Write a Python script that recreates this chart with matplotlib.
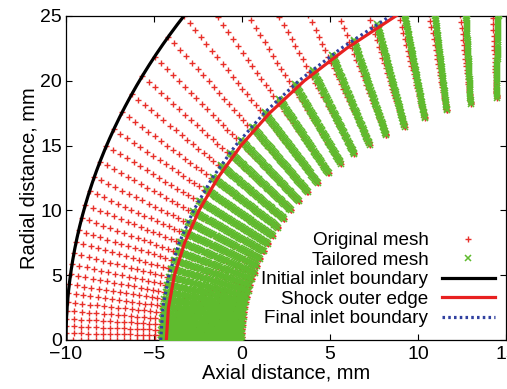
import numpy as np
import matplotlib
matplotlib.use("Agg")
import matplotlib.pyplot as plt

plt.rcParams['font.family'] = ['Liberation Sans', 'DejaVu Sans']

# spherical nose of the body (mm), nose point at x = 0
body_radius = 19.3
# initial inlet boundary: circular arc through x = -10 on the axis
inlet_center_x = 40.0
inlet_radius = 50.0

# grid lines: angle on the body and angle on the initial inlet boundary (deg)
ray_body_deg = [0.0, 0.78, 1.60, 2.46, 3.37, 4.34, 5.35, 6.41, 7.53, 8.71,
                9.96, 11.27, 12.65, 14.11, 15.64, 17.25, 18.95, 20.74, 22.63,
                24.62, 26.71, 28.91, 31.23, 33.68, 36.26, 38.97, 41.83, 44.84,
                48.01, 51.36, 54.88, 58.58, 62.49, 66.60, 70.93, 75.50, 80.31]
ray_inlet_deg = [0.0, 0.60, 1.23, 1.89, 2.59, 3.34, 4.12, 4.94, 5.80, 6.71,
                 7.67, 8.68, 9.74, 10.86, 12.04, 13.28, 14.59, 15.97, 17.43,
                 18.96, 20.57, 22.26, 24.05, 25.93, 27.92, 30.01, 32.21, 34.53,
                 36.97, 39.55, 42.26, 45.11, 48.12, 51.28, 54.62, 58.14, 61.84]

# shock outer edge and final inlet boundary (x at radial stations, mm)
station_y = [0.0, 2.5, 5.0, 7.5, 10.0, 12.5, 15.0, 17.5, 20.0, 22.5, 25.0,
             27.5, 30.0, 32.5]
shock_x = [-4.30, -4.18, -3.84, -3.26, -2.44, -1.38, -0.06, 1.56, 3.54, 5.94,
           8.74, 11.94, 15.54, 19.54]
final_inlet_x = [-4.62, -4.50, -4.15, -3.57, -2.75, -1.69, -0.37, 1.25, 3.23,
                 5.63, 8.43, 11.63, 15.23, 19.23]

n_original = 50      # points per grid line, original mesh
stretch = 2.0        # clustering of the original mesh towards the body
n_tailored = 70      # points per grid line, tailored mesh
tailor_turn = 0.04   # turn of tailored grid lines per degree of body angle


def hit_polyline(p0, d, xs, ys):
    # first crossing of the line p0 + t*d (t > 0) with a polyline
    best = None
    for i in range(len(xs) - 1):
        a = np.array([xs[i], ys[i]])
        e = np.array([xs[i + 1], ys[i + 1]]) - a
        m = np.array([[d[0], -e[0]], [d[1], -e[1]]])
        if abs(np.linalg.det(m)) < 1e-12:
            continue
        t, u = np.linalg.solve(m, a - p0)
        if t > 0 and 0 <= u <= 1 and (best is None or t < best):
            best = t
    return None if best is None else p0 + best * d


eta = np.linspace(0, 1, n_original)
s_orig = 1 + np.tanh(stretch * (eta - 1)) / np.tanh(stretch)
s_tail = np.linspace(0, 1, n_tailored)

orig_x, orig_y, tail_x, tail_y = [], [], [], []
for phi_d, alpha_d in zip(ray_body_deg, ray_inlet_deg):
    phi, alpha = np.radians(phi_d), np.radians(alpha_d)
    b = np.array([body_radius * (1 - np.cos(phi)), body_radius * np.sin(phi)])
    p = np.array([inlet_center_x - inlet_radius * np.cos(alpha),
                  inlet_radius * np.sin(alpha)])
    orig_x.append(b[0] + s_orig * (p[0] - b[0]))
    orig_y.append(b[1] + s_orig * (p[1] - b[1]))

    d = (p - b) / np.linalg.norm(p - b)
    turn = -np.radians(tailor_turn * phi_d)
    d = np.array([d[0] * np.cos(turn) - d[1] * np.sin(turn),
                  d[0] * np.sin(turn) + d[1] * np.cos(turn)])
    c = hit_polyline(b, d, final_inlet_x, station_y)
    if c is not None:
        tail_x.append(b[0] + s_tail * (c[0] - b[0]))
        tail_y.append(b[1] + s_tail * (c[1] - b[1]))

orig_x, orig_y = np.concatenate(orig_x), np.concatenate(orig_y)
tail_x, tail_y = np.concatenate(tail_x), np.concatenate(tail_y)

arc = np.radians(np.linspace(0, 40, 200))
inlet_x = inlet_center_x - inlet_radius * np.cos(arc)
inlet_y = inlet_radius * np.sin(arc)

fig = plt.figure(figsize=(5.07, 3.89), dpi=100)
ax = fig.add_axes([0.1302, 0.126, 0.8679, 0.833])

ax.plot(orig_x, orig_y, '+', color='#e8302a', ms=4.0, mew=1.0, ls='none',
        label='Original mesh', zorder=2)
ax.plot(tail_x, tail_y, 'x', color='#5fbb2e', ms=4.8, mew=1.1, ls='none',
        label='Tailored mesh', zorder=3)
ax.plot(inlet_x, inlet_y, color='black', lw=2.3,
        label='Initial inlet boundary', zorder=4)
ax.plot(shock_x, station_y, color='#e82020', lw=2.3,
        label='Shock outer edge', zorder=4)
ax.plot(final_inlet_x, station_y, color='#3040a0', lw=2.3, ls=(0, (0.8, 1.0)),
        label='Final inlet boundary', zorder=5)

ax.set_xlim(-10, 15)
ax.set_ylim(0, 25)
ax.set_xticks([-10, -5, 0, 5, 10, 15])
ax.set_yticks([0, 5, 10, 15, 20, 25])
ax.tick_params(direction='in', length=4, width=0.8, top=True, right=True,
               labelsize=14)
ax.tick_params(axis='x', pad=4)
ax.tick_params(axis='y', pad=3)
for sp in ax.spines.values():
    sp.set_linewidth(0.9)

ax.set_xlabel('Axial distance, mm', fontsize=14.4, labelpad=1)
ax.set_ylabel('Radial distance, mm', fontsize=14.4, labelpad=1)

ax.legend(loc='lower right', bbox_to_anchor=(1.004, -0.002), frameon=False,
          markerfirst=False, numpoints=1, fontsize=13.6, handlelength=2.8,
          handletextpad=0.7, labelspacing=0.12, borderpad=0.2)

fig.savefig('out.png', dpi=100)
